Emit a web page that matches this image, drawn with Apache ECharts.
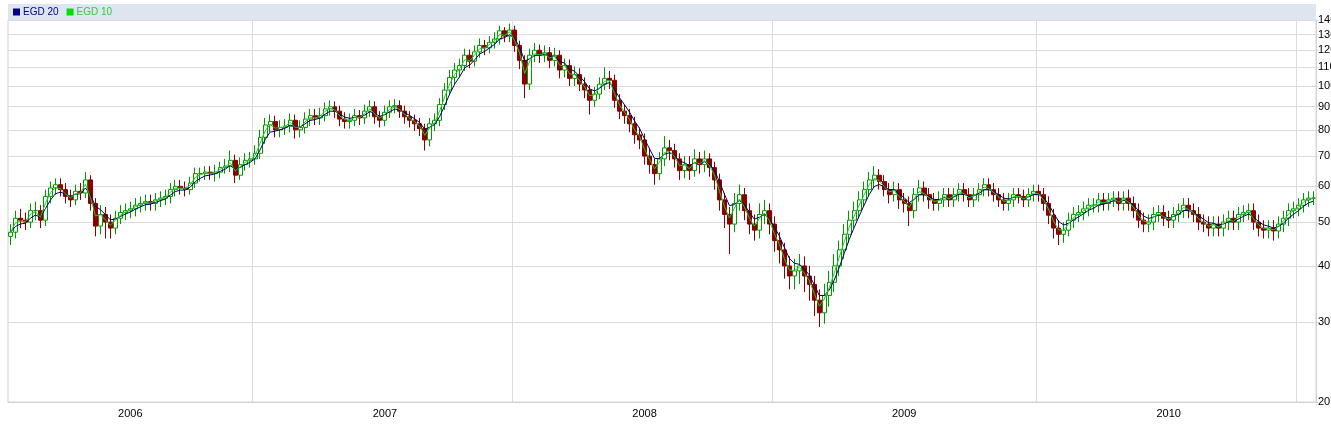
<!DOCTYPE html>
<html>
<head>
<meta charset="utf-8">
<script src="https://cdn.jsdelivr.net/npm/echarts@6/dist/echarts.min.js"></script>
<style>
  html, body { margin: 0; padding: 0; background: #fff; }
  #chart { width: 1331px; height: 434px; }
</style>
</head>
<body>
<div id="chart"></div>
<script>
// weekly candles, first week starts Mon 2006-01-23
const startWeek = '2006-01-23';

const opens = [
  46.5,47.5,51,50.5,50,53,53,50.5,57,59.5,
  60.5,59,57,56,58.5,58,62,55,49,52,
  50,48.5,51,52.5,53,53.5,54.5,55,55.5,55,
  56,56.5,57,59,60,59.5,59,61,64,64,
  64.5,64,64.5,66,66.5,68.5,63.5,67,68.5,69,
  71,77,82,83.5,80,81,81.5,84,80,81,
  84.5,86,85,86,89,90,88,84.5,83.5,84,
  86,85,88,90,85.5,84,87.5,90,90.5,88,
  85.5,84,82.5,80.5,76,82.5,84,91,98,104.5,
  108.5,111,117,113.5,119,123,121.5,125,127,132.5,
  129,133,123,114,101,117,120,117,118.5,114,
  117,108.5,111,104,106,101,98,93,96,101,
  104,103,93,88,86,82.5,78,76,70,67,
  64,69,73,72,69,65,67,65,69,67,
  69,66,62,56,52,49.5,55,57.5,53,49.5,
  48,52,53,49.5,45.5,43.4,40,38,39,40,
  38,36.4,33.6,31.5,34.4,36.8,40,43.4,47,50.5,
  53,56,59,62,63.5,61.5,59,57.5,59,56,
  55,53,57.5,59.5,57.5,56,55,56,57.5,56,
  57.5,59,57.5,56,57.5,59,60.5,59,57.5,56,
  55,56,57.5,57,56,57.5,58.5,57.5,55,51.8,
  48.5,47,48,50.5,52,52.5,53.5,54.5,54.5,56,
  55,56,56.5,55,56.5,55,53,50.5,49.5,50,
  52,52.5,51,50.5,52,53,54.5,53,52,50,
  49.5,48.5,49.5,48.5,50,51,50,52,52.5,53,
  50,48.5,48,48.5,47.8,49.5,51,53,53.5,54.5,
  56,56.5
];

const closes = [
  47.5,51,50.5,50,53,53,50.5,57,59.5,60.5,
  59,57,56,58.5,58,62,55,49,52,50,
  48.5,51,52.5,53,53.5,54.5,55,55.5,55,56,
  56.5,57,59,60,59.5,59,61,64,64,64.5,
  64,64.5,66,66.5,68.5,63.5,67,68.5,69,71,
  77,82,83.5,80,81,81.5,84,80,81,84.5,
  86,85,86,89,90,88,84.5,83.5,84,86,
  85,88,90,85.5,84,87.5,90,90.5,88,85.5,
  84,82.5,80.5,76,82.5,84,91,98,104.5,108.5,
  111,117,113.5,119,123,121.5,125,127,132.5,129,
  133,123,114,101,117,120,117,118.5,114,117,
  108.5,111,104,106,101,98,93,96,101,104,
  103,93,88,86,82.5,78,76,70,67,64,
  69,73,72,69,65,67,65,69,67,69,
  66,62,56,52,49.5,55,57.5,53,49.5,48,
  52,53,49.5,45.5,43.4,40,38,39,40,38,
  36.4,33.6,31.5,34.4,36.8,40,43.4,47,50.5,53,
  56,59,62,63.5,61.5,59,57.5,59,56,55,
  53,57.5,59.5,57.5,56,55,56,57.5,56,57.5,
  59,57.5,56,57.5,59,60.5,59,57.5,56,55,
  56,57.5,57,56,57.5,58.5,57.5,55,51.8,48.5,
  47,48,50.5,52,52.5,53.5,54.5,54.5,56,55,
  56,56.5,55,56.5,55,53,50.5,49.5,50,52,
  52.5,51,50.5,52,53,54.5,53,52,50,49.5,
  48.5,49.5,48.5,50,51,50,52,52.5,53,50,
  48.5,48,48.5,47.8,49.5,51,53,53.5,54.5,56,
  56.5,56.5
];

const lows = [
  44.5,46,48.5,48,48.5,50.5,48.5,49,55,57.5,
  57,55,54,54.5,56,56.5,53,46.5,47,46,
  46,47,49.5,50.5,51,51.5,52.5,53,53,53,
  54,54.5,55,57,57.5,57,57.5,59.5,61.5,62,
  62,61.5,62.5,64,64.5,61,62,65,66,67,
  69,74.5,79,77,77,78,79,76.5,77,78.5,
  81.5,82,82,83.5,86,85,81.5,80.5,80.5,81.5,
  82,82.5,85.5,82.5,81,81.5,85,87,85,82.5,
  81,79.5,77.5,72,73.5,79.5,81.5,88.5,95.5,101,
  104.5,108,109.5,110.5,115.5,117,118,121,123.5,125,
  125,119,109,94,98,113,112.5,113,109.5,110.5,
  104,104.5,100,100,97.5,94,86.5,90,93.5,98,
  98.5,89.5,84.5,82.5,79,74.5,72.5,67,64,60.5,
  62,66.5,68.5,66,62,62.5,62,63,64,64.5,
  63,59,53,48.5,42.5,47.5,53,50.5,47,45.5,
  46,49.5,47,43,40.5,37.5,35.5,35.5,36.5,35,
  33.5,31,29.3,29.8,32.5,35,38,41.5,45,48.5,
  51,54,57,59.5,59,57,55,55.5,53.5,52.5,
  49,51,55.5,55.5,53.5,53,53,54,54,54,
  55.5,55.5,54,54,55.5,57,57,55.5,54,53,
  53,54,55,54,54,55.5,55.5,53,49.5,46,
  44.5,45,46.5,48.5,50,50.5,51.5,52.5,52.5,53,
  53,54,53,53,53,51,48.5,47.5,47.5,48,
  50,49,48.5,48.5,50,51,51,50,48,47.5,
  46.5,46.5,46.5,46.5,48,48,48,50,50.5,48,
  46.5,46,46,45.5,46,47.5,49,51,51.5,52.5,
  54,54.5
];

const highs = [
  49.5,53,53.5,52.5,55,55.5,54.5,59,61.5,62.5,
  62.5,61,59,60.5,61,64.5,63.5,56.5,54.5,54,
  52,53,54.5,55,55.5,56.5,57,57.5,57.5,58,
  58.5,59,61,62,62,61.5,63,66,66,66.5,
  66.5,67,68,69,72,70.5,69.5,71,71.5,74,
  80,85,86.5,86,84,84.5,87,86.5,84,87.5,
  89,89,89.5,92,93,92.5,90.5,87.5,87,89,
  88.5,91,93,92.5,88,90.5,93,93.5,93,90.5,
  88,86.5,85,82.5,85,87,94,101.5,108.5,112.5,
  115,121,120.5,123,127.5,126.5,129,131.5,136,135,
  137.5,136,126,117,121,124.5,123.5,123,122,121.5,
  120,115,114.5,110.5,109.5,104.5,100.5,99.5,104.5,110,
  108,106,96,91,89,85.5,81,78.5,73,69,
  71.5,77.5,76,74.5,71,70,70,72.5,71.5,72,
  71,68,64,58,54,58,60.5,59.5,55,52,
  55,56,55,51.5,47.5,45,42,41.5,42.5,42,
  40,38,35.5,36.5,39,42.5,45.5,49.5,53,55.5,
  58.5,61.5,64.5,66.5,65.5,63.5,61,61.5,61,58,
  57,59.5,62,61.5,59.5,58,58.5,59.5,59.5,59.5,
  61,61,59.5,59.5,61,62.5,62.5,61,59.5,58,
  58,59.5,59.5,59,59.5,60.5,60.5,59.5,57,53.5,
  50.5,50,52.5,54,54.5,55.5,56.5,56.5,58,58,
  58,58.5,58.5,58.5,59,57,55,52.5,52,54,
  54.5,54.5,53,54,55,56.5,56.5,55,54,52,
  51.5,51.5,51.5,52,53,53,54,54.5,55,55,
  52,50.5,50.5,50.5,51.5,53,55,55.5,56.5,58,
  58.5,58.5
];

const priceTicks = [20, 30, 40, 50, 60, 70, 80, 90, 100, 110, 120, 130, 140];
const yearLabels = ['2006', '2007', '2008', '2009', '2010'];
// EGD = exponential moving average, periods in trading days -> weeks
const emaSeries = [
  { name: 'EGD 20', weeks: 4, color: '#000066', legend: '#000080' },
  { name: 'EGD 10', weeks: 2, color: '#22cc22', legend: '#00dd00' }
];

const lg = v => Math.log10(v);

// week categories
const weeks = [];
const weekYear = []; // year of the week's thursday
const t0 = Date.parse(startWeek + 'T00:00:00Z');
for (let i = 0; i < closes.length; i++) {
  const d = new Date(t0 + i * 7 * 86400000);
  weeks.push(d.toISOString().slice(0, 10));
  weekYear.push(new Date(d.getTime() + 3 * 86400000).getUTCFullYear());
}
const yearStart = new Set();
for (let i = 1; i < weeks.length; i++) {
  if (weekYear[i] !== weekYear[i - 1]) yearStart.add(i);
}
const labelAt = {};
yearLabels.forEach(y => {
  const idx = weekYear.map((w, i) => (String(w) === y ? i : -1)).filter(i => i >= 0);
  labelAt[Math.round((idx[0] + idx[idx.length - 1]) / 2)] = y;
});

const candles = closes.map((c, i) => [lg(opens[i]), lg(c), lg(lows[i]), lg(highs[i])]);

function ema(values, n) {
  const k = 2 / (n + 1);
  let prev = values[0];
  return values.map((v, i) => {
    if (i > 0) prev = v * k + prev * (1 - k);
    return lg(prev);
  });
}

const chart = echarts.init(document.getElementById('chart'), null, { renderer: 'canvas' });

const option = {
  animation: false,
  textStyle: { fontFamily: '"Liberation Sans", Arial, sans-serif' },
  graphic: [{
    type: 'rect',
    left: 8, top: 4,
    shape: { width: 1308, height: 16 },
    style: { fill: '#dce5f0' },
    z: 0
  }],
  legend: {
    data: emaSeries.map(s => ({
      name: s.name,
      itemStyle: { color: s.legend },
      textStyle: { color: s.legend === '#000080' ? '#000080' : '#33cc33' }
    })),
    left: 10, top: 5,
    icon: 'rect',
    itemWidth: 7, itemHeight: 7,
    itemGap: 8,
    padding: [2, 3],
    textStyle: { fontSize: 10, padding: [0, 0, 0, -2] },
    z: 5
  },
  grid: {
    left: 8, right: 15, top: 20, bottom: 32,
    outerBoundsMode: 'none',
    containLabel: false,
    show: true, borderColor: '#d4d4d4', borderWidth: 1
  },
  xAxis: {
    type: 'category',
    data: weeks,
    boundaryGap: true,
    axisLine: { lineStyle: { color: '#d4d4d4' } },
    axisTick: { show: false },
    axisLabel: {
      interval: i => labelAt[i] !== undefined,
      formatter: (v, i) => labelAt[i] || '',
      color: '#000', fontSize: 11, margin: 6
    },
    splitLine: {
      show: true,
      interval: i => yearStart.has(i),
      lineStyle: { color: '#dcdcdc' }
    }
  },
  yAxis: {
    type: 'value',
    position: 'right',
    min: lg(20), max: lg(140),
    axisLine: { show: true, lineStyle: { color: '#d4d4d4' } },
    axisTick: { show: true, length: 2, customValues: priceTicks.map(lg), lineStyle: { color: '#d4d4d4' } },
    axisLabel: {
      customValues: priceTicks.map(lg),
      formatter: v => String(Math.round(Math.pow(10, v))),
      color: '#000', fontSize: 11, margin: 2
    },
    splitLine: { lineStyle: { color: '#dcdcdc' } }
  },
  series: [
    {
      name: 'EGD',
      type: 'candlestick',
      data: candles,
      barWidth: '90%',
      itemStyle: {
        color: '#ffffff', borderColor: '#009900',
        color0: '#8b0000', borderColor0: '#8b0000',
        borderWidth: 1
      },
      z: 2
    },
    ...emaSeries.map(s => ({
      name: s.name,
      type: 'line',
      data: ema(closes, s.weeks),
      showSymbol: false,
      symbol: 'none',
      itemStyle: { color: s.color },
      lineStyle: { color: s.color, width: 1 },
      z: 3
    }))
  ]
};

chart.setOption(option);
</script>
</body>
</html>
